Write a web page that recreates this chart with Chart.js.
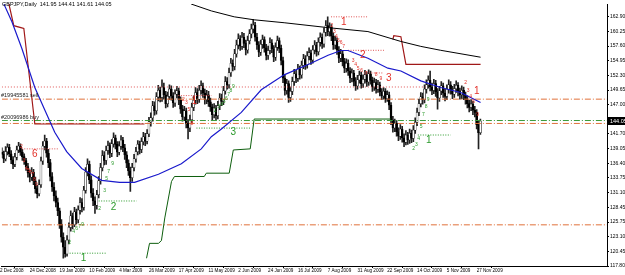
<!DOCTYPE html>
<html>
<head>
<meta charset="utf-8">
<script src="https://cdn.jsdelivr.net/npm/chart.js@4.4.0/dist/chart.umd.min.js"></script>
<style>
  html, body { margin: 0; padding: 0; background: #fff; }
</style>
</head>
<body>
<canvas id="chart" width="625" height="275"></canvas>
<script>
// GBPJPY daily, Dec 2008 - Dec 2009
var title = "GBPJPY,Daily  141.95 144.41 141.61 144.05";
var firstOpen = 138.4;
var closes = [
  138.0,137.2,138.5,139.3,138.1,137.0,136.2,137.5,138.8,139.5,
  138.4,137.6,136.9,135.8,134.6,133.9,134.8,133.2,131.8,130.9,
  132.5,136.8,139.5,140.4,138.2,136.5,134.0,132.1,130.5,129.3,
  127.8,125.4,123.0,121.2,120.0,122.5,124.8,126.9,125.3,127.6,
  126.2,127.9,129.3,128.4,131.5,134.8,136.2,133.4,131.0,129.6,
  128.8,130.7,133.2,135.6,137.8,136.9,138.7,139.6,138.2,139.9,
  141.0,139.8,138.4,139.5,140.6,139.2,137.9,136.4,135.0,133.8,
  135.6,137.2,138.5,139.8,138.9,140.3,141.2,140.4,141.7,143.9,
  144.6,146.8,145.9,148.4,149.6,148.3,150.2,148.8,147.2,148.5,
  149.8,148.6,147.3,148.9,149.5,147.8,146.2,144.8,145.9,143.6,
  142.8,144.3,146.5,147.8,149.2,148.0,149.6,150.4,149.1,147.9,
  148.8,147.5,146.6,145.2,146.4,145.0,146.8,148.2,147.6,149.5,
  151.2,150.6,152.8,154.5,153.9,156.2,157.8,158.9,157.6,159.2,
  158.1,156.9,158.6,159.8,160.7,161.4,159.2,157.8,156.5,157.9,
  158.8,157.3,155.9,156.8,158.2,157.1,155.6,157.4,158.6,157.2,
  155.0,151.8,149.6,150.8,148.3,149.4,151.2,152.6,151.8,153.5,
  152.4,154.1,155.3,154.2,155.8,156.4,155.1,156.9,157.8,156.6,
  158.3,159.2,158.0,160.1,161.3,160.2,161.0,159.4,157.8,158.6,
  156.9,155.4,156.2,154.8,153.6,154.5,153.1,151.8,152.7,151.2,
  150.4,151.5,152.3,150.8,151.6,152.4,151.1,152.6,151.4,150.2,
  151.0,149.8,150.6,149.3,148.6,149.4,148.1,148.8,146.9,144.2,
  142.8,143.6,142.1,141.3,142.6,141.0,140.2,141.5,140.6,141.8,
  140.9,142.4,143.8,145.6,147.2,148.4,147.9,149.8,150.6,151.4,
  150.2,149.6,150.8,149.3,148.2,149.5,150.4,149.1,148.5,149.8,
  150.6,149.7,148.9,149.9,150.5,149.4,148.8,149.6,148.7,147.9,
  147.2,146.5,147.1,146.0,145.6,143.4,141.95,144.05
];
var highs = [
  139.2,138.6,139.4,139.9,139.8,138.7,137.6,138.2,139.5,140.2,
  139.9,138.9,138.1,137.3,136.4,135.2,135.6,135.3,133.9,132.4,
  133.4,137.5,140.3,141.5,140.9,138.9,137.1,134.7,132.9,131.4,
  130.1,128.3,126.2,123.8,122.4,123.3,125.6,127.8,127.4,128.4,
  128.1,128.7,130.2,130.0,132.2,135.6,137.2,136.8,134.1,131.8,
  130.3,131.5,134.0,136.4,138.7,138.5,139.5,140.4,140.1,140.7,
  141.9,141.5,140.3,140.3,141.4,141.1,139.8,138.5,137.0,135.7,
  136.4,138.0,139.3,140.5,140.4,141.0,142.0,141.8,142.5,144.7,
  145.5,147.6,147.5,149.2,150.5,150.2,151.5,150.9,149.4,149.3,
  150.6,150.4,149.2,149.7,150.3,150.0,148.4,146.9,146.7,146.4,
  144.3,145.1,147.3,148.6,150.1,149.9,150.5,151.3,150.9,149.8,
  149.6,149.4,148.2,147.1,147.2,146.9,147.6,149.0,148.9,150.3,
  152.1,151.9,153.6,155.4,155.1,157.0,158.7,159.8,159.5,160.1,
  159.9,158.7,159.4,160.6,161.6,162.4,161.9,159.9,158.4,158.7,
  159.6,159.3,157.9,157.6,159.1,158.8,157.7,158.2,159.4,159.1,
  157.8,155.6,152.4,151.6,151.3,150.2,152.0,153.4,153.2,154.3,
  154.0,154.9,156.1,155.9,156.6,157.3,156.9,157.7,158.6,158.3,
  159.1,160.0,159.8,160.9,162.2,162.9,161.8,161.5,160.0,159.4,
  159.1,157.5,157.0,156.8,155.4,155.3,155.1,153.7,153.5,153.2,
  151.9,152.3,153.1,152.9,152.4,153.2,152.9,153.3,153.1,152.0,
  151.8,151.6,151.4,151.1,149.9,150.1,149.9,149.5,149.3,147.4,
  144.9,144.4,144.1,142.8,143.4,143.1,141.7,142.3,142.0,142.6,
  142.4,143.2,144.6,146.4,148.0,149.2,149.1,150.6,151.5,152.2,
  153.1,150.9,151.6,151.4,149.9,150.3,151.2,150.9,149.8,150.6,
  151.5,151.2,150.3,150.7,151.3,151.0,150.0,150.4,150.2,149.3,
  148.6,147.8,147.9,147.6,146.7,146.1,144.0,144.41
];
var lows = [
  137.4,136.5,136.8,137.9,137.6,136.3,135.4,135.8,137.0,138.3,
  137.8,136.9,136.2,135.1,133.9,133.0,133.3,132.5,131.0,130.1,
  130.5,132.0,136.2,138.8,137.5,135.6,133.2,131.3,129.6,128.5,
  126.9,124.6,122.1,119.2,119.4,119.6,121.8,124.1,124.5,124.9,
  125.4,125.6,127.2,127.6,127.9,131.0,134.1,132.7,130.2,128.7,
  127.3,128.1,130.1,132.6,135.0,136.1,136.2,138.0,137.4,137.6,
  139.3,139.0,137.6,137.9,138.9,138.5,137.1,135.6,134.2,131.3,
  133.1,135.0,136.6,137.9,138.1,138.3,139.7,139.6,139.9,141.2,
  143.1,144.0,145.1,145.3,147.7,147.5,147.6,148.0,146.4,146.6,
  147.9,147.8,146.5,146.7,148.2,147.0,145.4,144.0,144.1,142.8,
  140.8,142.1,143.7,145.9,147.1,147.2,147.4,148.9,148.3,147.1,
  147.2,146.7,145.8,144.3,144.6,144.2,144.4,146.1,146.8,147.0,
  148.9,149.8,150.0,152.1,153.1,153.3,155.6,157.1,156.8,157.0,
  157.3,156.0,156.3,158.0,159.1,160.0,158.5,157.0,155.7,155.9,
  157.2,156.5,155.1,155.2,156.2,156.4,154.8,155.0,156.8,156.4,
  154.2,151.0,148.7,148.9,147.4,147.6,148.8,150.5,151.0,151.2,
  151.6,151.8,153.5,153.4,153.6,155.1,154.3,154.5,156.2,155.8,
  156.0,157.6,157.2,157.4,159.4,159.5,159.4,158.6,157.0,157.1,
  156.1,154.6,154.8,154.0,152.8,152.9,152.3,151.0,151.1,150.4,
  149.6,149.8,150.9,150.0,150.1,150.9,150.3,150.5,150.7,149.4,
  149.6,149.1,149.2,148.6,147.9,148.0,147.4,147.6,146.1,143.4,
  142.0,142.1,141.3,140.5,140.7,140.2,139.4,139.7,139.8,140.0,
  140.1,140.3,141.8,143.2,145.0,146.6,147.1,147.3,149.1,150.0,
  149.5,148.8,149.0,148.5,146.2,147.6,148.8,148.3,147.7,147.9,
  149.1,148.9,148.1,148.3,149.2,148.6,148.0,148.1,147.9,147.1,
  146.4,145.7,145.9,145.2,144.8,142.6,139.0,141.61
];

// time axis: bar index of each date label
var dateTicks = [0,16,32,48,64,80,96,112,128,144,160,176,192,208,224,240,256];
var dateLabels = ["2 Dec 2008","24 Dec 2008","19 Jan 2009","10 Feb 2009","4 Mar 2009","26 Mar 2009",
  "17 Apr 2009","11 May 2009","2 Jun 2009","24 Jun 2009","16 Jul 2009","7 Aug 2009",
  "31 Aug 2009","22 Sep 2009","14 Oct 2009","5 Nov 2009","27 Nov 2009"];
var priceTicks = [162.90,160.25,157.60,154.95,152.30,149.65,147.00,144.35,141.70,139.05,
  136.40,133.75,131.10,128.45,125.75,123.10,120.45,117.80];
var lastPrice = 144.05;

// indicator lines, sampled at bar index
var maFastX = [2.1,6.4,11.7,18.7,24.0,29.4,35.8,43.9,54.6,64.2,72.3,85.1,97.4,108.1,113.5,118.9,129.6,140.3,152.6,167,176.2,183.1,186.9,197.6,208.3,215.3,226,236.7,247.4,258.1];
var maFastY = [165.2,162.0,157.2,150.1,146.1,142.0,138.5,135.45,133.3,132.95,132.95,134.4,136.3,139.0,141.2,142.6,145.6,149.7,152.4,154.5,155.95,156.8,156.8,155.4,153.6,153.1,151.3,150.1,149.2,147.4];
var maSlowX = [97.4,102.8,113.5,125.8,136.5,152.6,176.2,197.6,215.3,226,236.7,258.1];
var maSlowY = [166.6,165.2,163.97,162.9,162.36,161.83,160.94,160.23,158.44,157.55,156.84,155.59];
var sellStopX = [4.0,4.8,7.4,11.7,12.8,18.7,77.6,null,211,211.5,215.3,218,258.1];
var sellStopY = [167,165.2,161.3,160.9,160.8,143.5,143.5,null,158.8,159.5,159.3,154.3,154.3];
var buyStopX = [78.7,80.3,85.1,86.7,88.5,92.1,93.7,109.7,110.8,123.1,125.3,134.4,136.5,209.9];
var buyStopY = [119.2,121.9,121.9,122.4,126.5,133.1,134.0,134.0,134.6,134.6,138.8,139.0,144.4,144.4];

// trade levels
var resistLevel = 150.2, resistEnd = 228.6;
var sellLevel = 148.0, buyLevel = 144.13, stopLevel = 143.6, targetLevel = 125.25;
var sellTicket = "#19945581 sell", buyTicket = "#20096986 buy";

// TD setup lines: start, end, price, label, label bar, label price, side
var tdLines = [
  [11.7, 31.5, 139.0, "6", 18.7, 138.1, "s"],
  [95.8, 113.5, 148.64, "1", 104.4, 147.7, "s"],
  [177.8, 197.6, 162.9, "1", 184.7, 162.0, "s"],
  [186.9, 206.2, 156.84, "2", 194.9, 155.95, "s"],
  [195.4, 205.6, 152.74, "3", 208.8, 151.85, "s"],
  [null, null, null, "1", 256, 149.35, "s"],
  [37.4, 57.3, 120.12, "1", 44.9, 119.2, "b"],
  [53.0, 73.3, 129.57, "2", 61.0, 128.5, "b"],
  [105.5, 135.0, 142.76, "3", 125.3, 142.0, "b"],
  [224.4, 242.0, 141.51, "1", 230.3, 140.6, "b"]
];
// small TD counts: bar, price, text, side
var tdCounts = [
  [11.5,139.4,"2","s"],[12.8,136.8,"3","s"],[14.2,135.4,"4","s"],[15.4,135.0,"5","s"],[16.5,134.7,"6","s"],
  [17.6,134.4,"7","s"],[18.5,133.5,"8","s"],[19.5,132.6,"9","s"],
  [37.4,122.1,"2","b"],[39.6,124.0,"4","b"],[41.2,124.5,"6","b"],[42.8,125.0,"7","b"],[44.4,125.3,"9","b"],
  [53.5,128.1,"2","b"],[56.2,131.4,"3","b"],[57.3,133.6,"5","b"],[58.3,134.9,"7","b"],[60.5,136.4,"9","b"],
  [98.5,147.9,"2","s"],[100.1,147.3,"3","s"],[101.4,146.1,"5","s"],[103.0,143.6,"8","s"],
  [115.6,146.0,"2","b"],[117.4,146.7,"3","b"],[119.0,147.0,"4","b"],[120.4,147.5,"5","b"],[121.6,148.1,"6","b"],
  [122.8,148.8,"7","b"],[124.0,149.5,"8","b"],[125.4,150.2,"9","b"],
  [178.3,161.3,"2","s"],[179.6,160.3,"3","s"],[180.7,159.3,"4","s"],[181.8,158.6,"5","s"],[183.2,158.3,"6","s"],
  [184.6,157.5,"7","s"],[189.6,154.9,"3","s"],[191.0,154.2,"4","s"],[192.3,153.6,"5","s"],[194.2,153.1,"6","s"],
  [196.6,152.6,"7","s"],[202.0,152.4,"8","s"],[204.6,151.7,"9","s"],
  [222.2,139.0,"2","b"],[223.6,139.8,"3","b"],[224.9,140.8,"4","b"],[226.2,143.0,"5","b"],[227.4,145.2,"7","b"],
  [228.8,146.6,"8","b"],[230.0,148.0,"9","b"],
  [250.1,151.0,"2","s"],[251.4,149.6,"3","s"],[252.8,148.4,"4","s"],[254.4,147.6,"6","s"],[256.5,145.2,"9","s"]
];

var sellRed = "#e3312a", buyGreen = "#2b9a2b";

function points(xs, ys) {
  var out = [];
  for (var k = 0; k < xs.length; k++) out.push({x: xs[k], y: ys[k]});
  return out;
}
function hline(price, x0, x1, color, dash) {
  return {type: 'line', data: [{x: x0, y: price}, {x: x1, y: price}], borderColor: color,
    borderWidth: 1, borderDash: dash, pointRadius: 0, order: 2};
}

var wicks = [], bodies = [], bodyColors = [];
for (var k = 0; k < closes.length; k++) {
  var open = k === 0 ? firstOpen : closes[k - 1];
  wicks.push({x: k + 1, y: [lows[k], highs[k]]});
  bodies.push({x: k + 1, y: [open, closes[k]]});
  bodyColors.push(closes[k] >= open ? '#ffffff' : '#000000');
}

var datasets = [
  {type: 'bar', data: wicks, backgroundColor: '#222', barThickness: 1, grouped: false, order: 20},
  {type: 'bar', data: bodies, backgroundColor: bodyColors, borderColor: '#000', borderWidth: 0.5,
    borderSkipped: false, barThickness: 2, grouped: false, order: 19},
  hline(resistLevel, 1, resistEnd, '#e05555', [1, 2]),
  hline(sellLevel, 1, 326, '#e0703a', [6, 2, 1, 2]),
  hline(buyLevel, 1, 326, '#3a9a3a', [6, 2, 1, 2]),
  hline(stopLevel, 1, 326, '#e0703a', [6, 2, 1, 2]),
  hline(targetLevel, 1, 326, '#e0703a', [6, 2, 1, 2]),
  {type: 'line', data: points(maSlowX, maSlowY), borderColor: '#000', borderWidth: 1, pointRadius: 0, order: 1},
  {type: 'line', data: points(maFastX, maFastY), borderColor: '#1a1acc', borderWidth: 1.2, pointRadius: 0, order: 1},
  {type: 'line', data: points(sellStopX, sellStopY), borderColor: '#a01818', borderWidth: 1.2, pointRadius: 0, spanGaps: false, order: 1},
  {type: 'line', data: points(buyStopX, buyStopY), borderColor: '#0d5e0d', borderWidth: 1, pointRadius: 0, order: 1}
];
tdLines.forEach(function (t) {
  if (t[0] !== null) datasets.push(hline(t[2], t[0], t[1], t[6] === 's' ? '#e05555' : buyGreen, [1, 1.5]));
});

var overlay = {
  id: 'overlay',
  afterDatasetsDraw: function (chart) {
    var ctx = chart.ctx, xs = chart.scales.x, ys = chart.scales.y;
    ctx.save();
    ctx.textAlign = 'center';
    ctx.textBaseline = 'middle';
    ctx.font = '5px "Liberation Sans"';
    tdCounts.forEach(function (c) {
      ctx.fillStyle = c[3] === 's' ? sellRed : buyGreen;
      ctx.fillText(c[2], xs.getPixelForValue(c[0]), ys.getPixelForValue(c[1]));
    });
    ctx.font = '10px "Liberation Sans"';
    tdLines.forEach(function (t) {
      ctx.fillStyle = t[6] === 's' ? sellRed : buyGreen;
      ctx.fillText(t[3], xs.getPixelForValue(t[4]), ys.getPixelForValue(t[5]));
    });
    // ticket labels
    ctx.textAlign = 'left';
    ctx.textBaseline = 'alphabetic';
    ctx.font = '5.5px "Liberation Sans"';
    ctx.fillStyle = '#222';
    ctx.fillText(sellTicket, 1, ys.getPixelForValue(sellLevel) - 2);
    ctx.fillText(buyTicket, 1, ys.getPixelForValue(buyLevel) - 1.5);
    ctx.restore();
  },
  afterDraw: function (chart) {
    var ctx = chart.ctx, ys = chart.scales.y, area = chart.chartArea;
    ctx.save();
    var py = Math.round(ys.getPixelForValue(lastPrice));
    ctx.fillStyle = '#000';
    ctx.fillRect(area.right, py - 4, 625 - area.right, 8);
    ctx.fillStyle = '#fff';
    ctx.font = '5.5px "Liberation Sans"';
    ctx.textBaseline = 'middle';
    ctx.fillText(lastPrice.toFixed(2), area.right + 3, py);
    ctx.fillStyle = '#000';
    ctx.textBaseline = 'top';
    ctx.fillText(title, 2, 2);
    ctx.restore();
  }
};

new Chart(document.getElementById('chart').getContext('2d'), {
  data: {datasets: datasets},
  options: {
    responsive: false,
    animation: false,
    events: [],
    layout: {padding: 0},
    plugins: {legend: {display: false}, tooltip: {enabled: false}},
    scales: {
      x: {
        type: 'linear', position: 'bottom', min: 1, max: 326, offset: false,
        afterFit: function (s) { s.height = 9; },
        afterBuildTicks: function (s) { s.ticks = dateTicks.map(function (v) { return {value: v}; }); },
        grid: {display: true, drawOnChartArea: false, drawTicks: true, tickLength: 2, color: '#000'},
        border: {display: true, color: '#000', width: 1},
        ticks: {
          autoSkip: false, maxRotation: 0, minRotation: 0, align: 'start', padding: 0,
          color: '#000', font: {family: 'Liberation Sans', size: 4.6},
          callback: function (v) { return dateLabels[dateTicks.indexOf(v)]; }
        }
      },
      y: {
        type: 'linear', position: 'right', min: 117.8, max: 165.22,
        afterFit: function (s) { s.width = 18; },
        afterBuildTicks: function (s) { s.ticks = priceTicks.map(function (v) { return {value: v}; }); },
        grid: {display: true, drawOnChartArea: false, drawTicks: true, tickLength: 2, color: '#000'},
        border: {display: true, color: '#000', width: 1},
        ticks: {
          autoSkip: false, padding: 1, color: '#000', font: {family: 'Liberation Sans', size: 5},
          callback: function (v) { return v.toFixed(2); }
        }
      }
    }
  },
  plugins: [overlay]
});
</script>
</body>
</html>
